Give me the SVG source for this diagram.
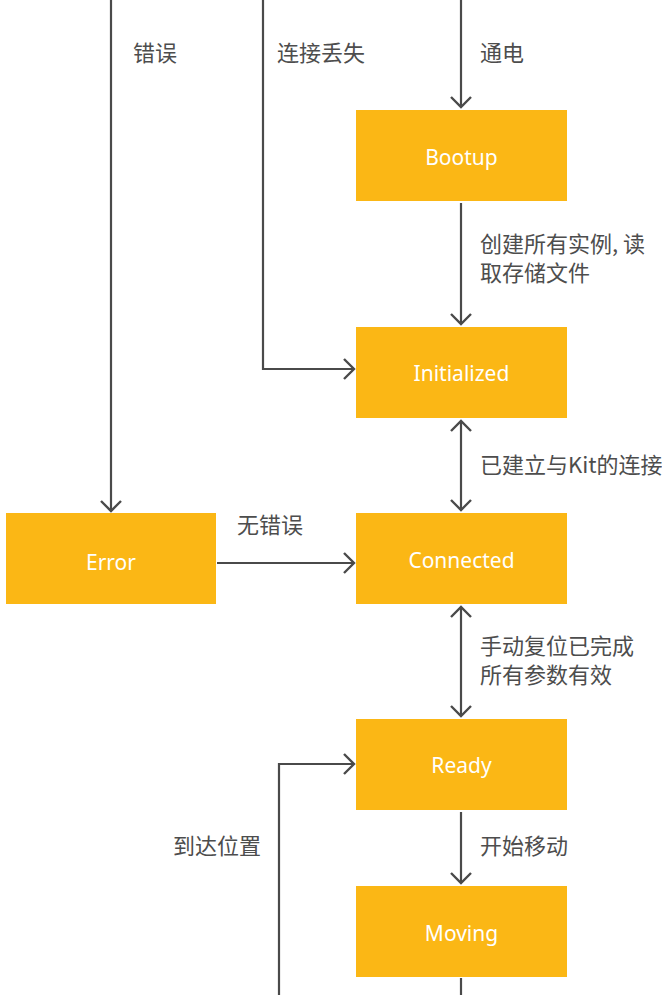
<svg xmlns="http://www.w3.org/2000/svg" width="662" height="995" viewBox="0 0 662 995">
<defs>
<style>
.node rect{fill:#FBB715;}
.node text{fill:#ffffff;font-family:"Noto Sans","Noto Sans CJK SC",sans-serif;font-size:21px;text-anchor:middle;}
.edge{fill:none;stroke:#4a4a4a;stroke-width:2.2;}
.lbl{fill:#4d4d4d;font-family:"Noto Sans CJK SC","Noto Sans",sans-serif;font-size:22px;}
</style>
<marker id="arr" viewBox="-12 -12 14 24" markerWidth="14" markerHeight="24" refX="0" refY="0" orient="auto-start-reverse" markerUnits="userSpaceOnUse">
<path d="M-10,-10 L0,0 L-10,10" fill="none" stroke="#4a4a4a" stroke-width="2.4"/>
</marker>
</defs>
<rect width="662" height="995" fill="#ffffff"/>
<g id="connectors">
<path class="edge" d="M111,0 V511" marker-end="url(#arr)"/>
<path class="edge" d="M263,0 V369 H354" marker-end="url(#arr)"/>
<path class="edge" d="M461,0 V107" marker-end="url(#arr)"/>
<path class="edge" d="M461,203 V324" marker-end="url(#arr)"/>
<path class="edge" d="M461,421 V510" marker-start="url(#arr)" marker-end="url(#arr)"/>
<path class="edge" d="M461,607 V716" marker-start="url(#arr)" marker-end="url(#arr)"/>
<path class="edge" d="M461,812 V883" marker-end="url(#arr)"/>
<path class="edge" d="M461,978 V995"/>
<path class="edge" d="M279,995 V764 H354" marker-end="url(#arr)"/>
<path class="edge" d="M217,563 H354" marker-end="url(#arr)"/>
</g>
<g id="labels">
<text class="lbl" x="133" y="61">错误</text>
<text class="lbl" x="277" y="61">连接丢失</text>
<text class="lbl" x="480" y="61">通电</text>
<text class="lbl" x="480" y="252">创建所有实例, 读</text>
<text class="lbl" x="480" y="281">取存储文件</text>
<text class="lbl" x="480" y="473">已建立与Kit的连接</text>
<text class="lbl" x="237" y="533">无错误</text>
<text class="lbl" x="480" y="654">手动复位已完成</text>
<text class="lbl" x="480" y="683">所有参数有效</text>
<text class="lbl" x="173" y="854">到达位置</text>
<text class="lbl" x="480" y="854">开始移动</text>
</g>
<g id="bootup" class="node"><rect x="356" y="110" width="211" height="91"/><text x="461.5" y="165">Bootup</text></g>
<g id="initialized" class="node"><rect x="356" y="327" width="211" height="91"/><text x="461.5" y="381">Initialized</text></g>
<g id="error" class="node"><rect x="6" y="513" width="210" height="91"/><text x="111" y="570">Error</text></g>
<g id="connected" class="node"><rect x="356" y="513" width="211" height="91"/><text x="461.5" y="568">Connected</text></g>
<g id="ready" class="node"><rect x="356" y="719" width="211" height="91"/><text x="461.5" y="773">Ready</text></g>
<g id="moving" class="node"><rect x="356" y="886" width="211" height="91"/><text x="461.5" y="941">Moving</text></g>
</svg>
